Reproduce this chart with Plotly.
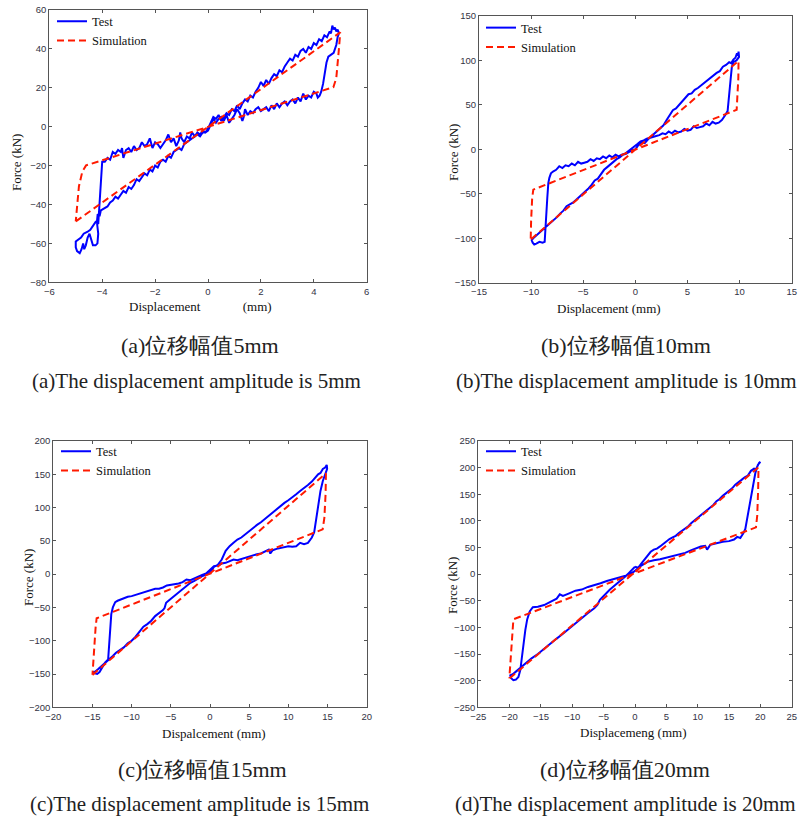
import plotly.graph_objects as go

# ---------------- data ----------------
# (a) amplitude 5 mm
test_a_x = [0.0,0.1,0.2,0.3,0.4,0.5,0.6,0.7,0.8,0.9,1.0,1.1,1.2,1.3,1.4,1.5,1.6,1.7,1.8,1.9,2.0,2.1,2.2,2.3,2.4,2.5,2.6,2.7,2.8,2.9,3.0,3.1,3.2,3.3,3.4,3.5,3.6,3.7,3.8,3.9,4.0,4.1,4.2,4.3,4.4,4.5,4.6,4.65,4.7,4.75,4.8,4.85,4.9,4.95,
            4.9,4.85,4.75,4.65,4.55,4.48,4.42,4.35,4.28,4.22,4.15,4.1,4.0,3.9,3.8,3.7,3.6,3.5,3.4,3.3,3.2,3.1,3.0,2.9,2.8,2.7,2.6,2.5,2.4,2.3,2.2,2.1,2.0,1.9,1.8,1.7,1.6,1.5,1.4,1.35,1.3,1.2,1.1,1.0,0.9,0.8,0.7,0.6,0.5,0.4,0.3,0.2,0.1,0.0,
            -0.1,-0.2,-0.3,-0.4,-0.5,-0.6,-0.7,-0.8,-0.9,-1.0,-1.05,-1.1,-1.2,-1.3,-1.4,-1.5,-1.6,-1.7,-1.8,-1.9,-2.0,-2.1,-2.2,-2.3,-2.4,-2.5,-2.6,-2.7,-2.8,-2.9,-3.0,-3.1,-3.2,-3.25,-3.3,-3.4,-3.5,-3.6,-3.7,-3.8,-3.9,-4.0,
            -4.03,-4.06,-4.1,-4.12,-4.15,-4.25,-4.35,-4.45,-4.55,-4.7,-4.8,-4.9,-5.0,-5.0,-4.95,-4.85,-4.78,-4.72,-4.68,-4.62,-4.55,-4.48,-4.4,-4.35,-4.25,-4.18,-4.15,-4.2,-4.17,-4.1,-4.05,
            -3.9,-3.8,-3.7,-3.6,-3.5,-3.4,-3.3,-3.2,-3.1,-3.0,-2.9,-2.8,-2.7,-2.6,-2.5,-2.4,-2.3,-2.2,-2.1,-2.0,-1.9,-1.8,-1.7,-1.6,-1.5,-1.4,-1.3,-1.2,-1.1,-1.0,-0.9,-0.8,-0.7,-0.6,-0.5,-0.4,-0.3,-0.2,-0.1,0.0]
test_a_y = [-1,2,5,4,6,3,5,7,6,9,8,11,9,12,14,13,16,15,18,20,23,21,24,22,25,27,26,29,28,31,33,35,34,37,36,39,40,38,41,40,43,42,45,44,47,46,49,48,52,50,51,49,50,48,
            46,42,38,37,36,33,27,22,18,16,15,17,18,15,16,14,17,13,15,12,14,13,11,13,12,10,12,9,11,8,10,9,8,10,9,7,8,6,9,5,3,7,9,6,4,2,6,3,5,4,2,4,1,-2,
            -3,-2,-4,-3,-5,-3,-6,-5,-8,-6,-3,-7,-10,-6,-8,-4,-7,-9,-11,-9,-8,-11,-6,-9,-10,-8,-11,-12,-10,-13,-11,-12,-16,-11,-13,-12,-14,-13,-17,-16,-18,-18,
            -25,-35,-42,-48,-50,-49,-51,-53,-54,-55,-57,-58,-59,-62,-64,-65,-63,-60,-63,-61,-57,-55,-58,-61,-61,-60,-55,-49,-45,-46,-43,
            -42,-41,-39,-38,-36,-37,-35,-33,-34,-31,-32,-30,-27,-28,-26,-24,-25,-22,-23,-20,-21,-18,-17,-18,-15,-16,-13,-12,-11,-12,-9,-8,-7,-6,-5,-4,-5,-3,-3,-1]
sim_a_x = [-5.0, 5.0, 4.95, 4.85, 4.74, -4.61, -4.75, -4.88, -5.0]
sim_a_y = [-48.7, 48.5, 40.0, 25.0, 20.3, -19.9, -23.0, -30.7, -48.7]

# (b) amplitude 10 mm
test_b_x = [0,0.3,0.6,0.9,1.2,1.5,1.8,2.1,2.4,2.7,3.0,3.3,3.6,3.9,4.2,4.5,4.8,5.1,5.4,5.7,6.0,6.3,6.6,6.9,7.2,7.5,7.8,8.1,8.4,8.7,9.0,9.2,9.4,9.6,9.75,9.85,9.9,9.95,
            9.7,9.4,9.25,9.15,9.05,8.95,8.85,8.6,8.3,8.0,7.7,7.4,7.1,6.8,6.5,6.2,5.9,5.6,5.3,5.0,4.7,4.4,4.1,3.8,3.5,3.2,2.9,2.6,2.3,2.0,1.7,1.4,1.1,0.8,0.5,0.2,
            -0.1,-0.4,-0.7,-1.0,-1.3,-1.6,-1.9,-2.2,-2.5,-2.8,-3.1,-3.4,-3.7,-4.0,-4.3,-4.6,-4.9,-5.2,-5.5,-5.8,-6.1,-6.4,-6.7,-7.0,-7.3,-7.6,-7.9,-8.1,-8.25,-8.35,-8.45,-8.55,-8.65,-8.7,-8.9,-9.2,-9.5,-9.7,-9.85,-9.95,-9.8,
            -9.6,-9.3,-9.0,-8.7,-8.4,-8.1,-7.8,-7.5,-7.2,-6.9,-6.6,-6.3,-6.0,-5.7,-5.4,-5.1,-4.8,-4.5,-4.2,-3.9,-3.6,-3.3,-3.0,-2.7,-2.4,-2.1,-1.8,-1.5,-1.2,-0.9,-0.6,-0.3,0]
test_b_y = [0,5,8,7,11,14,17,20,24,27,33,39,44,46,50,54,57,62,63,67,69,72,74,78,80,83,86,88,93,95,98,97,101,103,108,105,110,104,
            100,98,92,80,65,50,43,38,33,30,29,31,27,29,26,25,24,26,22,21,23,20,19,21,18,20,17,18,16,15,14,13,12,10,9,6,
            3,1,-2,-5,-6,-8,-6,-9,-7,-10,-8,-11,-10,-13,-11,-14,-15,-16,-14,-18,-16,-19,-18,-21,-19,-23,-25,-27,-32,-38,-55,-75,-95,-104,-105,-104,-106,-107,-105,-102,-100,
            -98,-95,-92,-88,-86,-82,-80,-76,-72,-69,-64,-62,-60,-57,-54,-50,-48,-44,-40,-35,-33,-28,-23,-20,-17,-13,-11,-9,-6,-5,-3,-1,0]
sim_b_x = [-10.0, 9.9, 9.88, 9.8, 9.72, -9.79, -9.9, -10.0, -10.04]
sim_b_y = [-101.0, 99.5, 80.0, 55.0, 44.5, -45.3, -55.0, -80.0, -101.0]

# (c) amplitude 15 mm
test_c_x = [0,0.5,1.0,1.5,2.0,2.5,3.0,3.5,4.0,4.5,5.0,5.5,6.0,6.5,7.0,7.5,8.0,8.5,9.0,9.5,10.0,10.5,11.0,11.5,12.0,12.5,13.0,13.5,13.8,14.1,14.4,14.7,14.9,14.95,
            14.7,14.4,14.1,13.8,13.5,13.3,13.0,12.5,12.0,11.5,11.0,10.5,10.0,9.5,9.0,8.5,8.0,7.7,7.5,7.0,6.5,6.0,5.5,5.0,4.5,4.0,3.5,3.0,2.5,2.0,1.5,1.0,0.5,0.0,
            -0.5,-1.0,-1.5,-2.0,-2.5,-3.0,-3.5,-4.0,-4.5,-5.0,-5.5,-6.0,-6.5,-7.0,-7.5,-8.0,-8.5,-9.0,-9.5,-10.0,-10.5,-11.0,-11.5,-11.8,-12.1,-12.4,-12.6,-12.75,-12.9,-13.0,-13.4,-13.8,-14.1,-14.4,-14.7,-14.9,
            -14.6,-14.3,-14.0,-13.6,-13.2,-12.8,-12.4,-12.0,-11.5,-11.0,-10.5,-10.0,-9.5,-9.0,-8.5,-8.0,-7.5,-7.0,-6.5,-6.0,-5.8,-5.6,-5.3,-5.0,-4.5,-4.0,-3.5,-3.0,-2.5,-2.0,-1.5,-1.0,-0.5,0]
test_c_y = [2,11,14,22,35,42,47,52,55,60,65,70,74,78,83,87,92,97,102,107,111,115,120,125,129,134,139,146,150,152,158,160,164,158,
            150,140,125,100,75,63,55,47,45,47,42,41,42,41,40,38,36,31,37,34,31,30,28,27,24,22,21,22,19,17,16,13,12,6,
            1,-1,-4,-6,-9,-8,-12,-14,-15,-17,-17,-20,-22,-22,-24,-26,-28,-30,-31,-33,-34,-36,-38,-40,-42,-50,-60,-90,-120,-128,-133,-140,-147,-150,-149,-147,
            -146,-143,-140,-136,-131,-127,-123,-118,-114,-110,-104,-100,-94,-86,-79,-75,-70,-63,-59,-54,-51,-43,-40,-37,-32,-27,-22,-17,-13,-10,-6,-3,-1,2]
sim_c_x = [-15.0, 14.8, 14.75, 14.6, 14.38, -14.47, -14.6, -14.85, -15.0]
sim_c_y = [-151.4, 151.4, 120.0, 85.0, 67.3, -66.3, -80.0, -120.0, -151.4]

# (d) amplitude 20 mm
test_d_x = [0,0.5,1.0,1.5,2.0,2.5,3.0,3.5,4.0,4.5,5.0,5.5,6.0,6.5,7.0,7.5,8.0,8.5,9.0,9.5,10.0,10.5,11.0,11.5,12.0,12.5,13.0,13.5,14.0,14.5,15.0,15.5,16.0,16.5,17.0,17.5,18.0,18.5,19.0,19.3,19.6,19.8,20.0,
            19.6,19.2,18.8,18.4,18.0,17.6,17.3,16.8,16.3,15.8,15.0,14.0,13.0,12.0,11.5,11.2,10.5,10.0,9.0,8.0,7.0,6.0,5.0,4.0,3.0,2.0,1.0,0.5,0.0,
            -0.8,-1.5,-2.5,-3.5,-4.5,-5.5,-6.5,-7.5,-8.5,-9.5,-10.5,-11.5,-12.0,-12.5,-13.5,-14.5,-15.5,-16.3,-16.8,-17.2,-17.5,-17.8,-18.1,-18.3,-18.6,-19.0,-19.4,-19.8,-19.9,
            -19.5,-19.0,-18.5,-18.0,-17.3,-16.5,-15.5,-14.5,-13.5,-12.5,-11.5,-10.5,-9.5,-8.5,-7.5,-6.5,-6.0,-5.6,-5.0,-4.5,-4.0,-3.5,-3.0,-2.5,-2.0,-1.5,-1.0,-0.5,0]
test_d_y = [14,12,20,27,35,42,46,48,52,57,62,66,69,72,77,81,86,90,96,101,106,110,116,120,126,130,137,141,147,152,157,161,168,172,177,182,185,194,198,197,206,209,211,
            205,190,165,135,110,85,77,68,70,65,62,61,58,55,46,53,52,50,45,40,37,34,30,28,26,23,16,12,6,
            0,-3,-6,-9,-13,-17,-20,-24,-29,-31,-36,-41,-38,-46,-52,-58,-61,-62,-70,-85,-105,-135,-165,-180,-193,-198,-199,-195,-190,
            -188,-183,-178,-172,-166,-158,-150,-140,-131,-121,-112,-102,-93,-83,-73,-64,-58,-48,-40,-35,-29,-24,-19,-15,-10,-4,2,8,14]
sim_d_x = [-20.0, 19.7, 19.65, 19.5, 19.3, -19.4, -19.55, -19.85, -20.05]
sim_d_y = [-195.6, 200.6, 160.0, 110.0, 87.9, -84.8, -110.0, -160.0, -195.6]

x_ranges = [[-6, 6], [-15, 15], [-20, 20], [-25, 25]]
y_ranges = [[-80, 60], [-150, 150], [-200, 200], [-250, 250]]
x_dticks = [2, 5, 5, 5]
y_dticks = [20, 50, 50, 50]
x_titles = ["Displacement" + "&nbsp;" * 13 + "(mm)", "Displacement (mm)", "Dispalcement (mm)", "Displacemeng (mm)"]
y_title = "Force (kN)"
captions_cn = ["(a)位移幅值5mm", "(b)位移幅值10mm", "(c)位移幅值15mm", "(d)位移幅值20mm"]
captions_en = ["(a)The displacement amplitude is 5mm", "(b)The displacement amplitude is 10mm",
               "(c)The displacement amplitude is 15mm", "(d)The displacement amplitude is 20mm"]

tests = [(test_a_x, test_a_y), (test_b_x, test_b_y), (test_c_x, test_c_y), (test_d_x, test_d_y)]
sims = [(sim_a_x, sim_a_y), (sim_b_x, sim_b_y), (sim_c_x, sim_c_y), (sim_d_x, sim_d_y)]

# ---------------- layout helpers (pixel geometry) ----------------
W, H = 799, 818
def px(x): return x / W
def py(y): return 1 - y / H

# plot frames in pixels: left, right, top, bottom
frames = [(49.3, 366.7, 10, 282.3), (479, 791.7, 16, 282.7), (53.3, 366.7, 441, 707.3), (478.3, 791.7, 441, 707.3)]
legend_pos = [(52, 6.5), (481, 13), (56, 436.5), (481, 436.5)]
# x-title: (x, y, anchor)
xtitle_pos = [(127, 306, "left"), (609, 308, "center"), (214, 733, "center"), (633, 732, "center")]
ytitle_pos = [(16, 163), (453, 153), (28, 578), (452, 586)]
cap_cn_pos = [(200, 345), (626, 345), (202, 769), (625, 769)]
cap_en_pos = [(196, 381), (626, 381), (199, 804), (625, 804)]

fig = go.Figure()
layout = dict(width=W, height=H, margin=dict(l=0, r=0, t=0, b=0),
              paper_bgcolor="white", plot_bgcolor="white", showlegend=True)

tick_font = dict(family="Liberation Sans, Arial, sans-serif", size=9.5, color="#333344")
serif = "Liberation Serif, DejaVu Serif, Times New Roman, serif"
annotations = []

for i in range(4):
    n = "" if i == 0 else str(i + 1)
    lg = "legend" if i == 0 else "legend" + str(i + 1)
    tx, ty = tests[i]
    sx, sy = sims[i]
    fig.add_trace(go.Scatter(x=tx, y=ty, mode="lines", name="Test",
                             line=dict(color="#0000ff", width=2),
                             xaxis="x" + n, yaxis="y" + n, legend=lg))
    fig.add_trace(go.Scatter(x=sx, y=sy, mode="lines", name="Simulation",
                             line=dict(color="#ff1a00", width=2, dash="7px,4px"),
                             xaxis="x" + n, yaxis="y" + n, legend=lg))
    l, r, t, b = frames[i]
    ax_common = dict(showline=True, linecolor="#555555", linewidth=1, mirror="ticks",
                     ticks="inside", ticklen=3, tickcolor="#555555", showgrid=False,
                     zeroline=False, tickfont=tick_font, fixedrange=True, automargin=False)
    layout["xaxis" + n] = dict(domain=[px(l), px(r)], range=x_ranges[i], dtick=x_dticks[i],
                               tick0=0, anchor="y" + n, **ax_common)
    layout["yaxis" + n] = dict(domain=[py(b), py(t)], range=y_ranges[i], dtick=y_dticks[i],
                               tick0=0, anchor="x" + n, **ax_common)
    lx, ly = legend_pos[i]
    layout[lg] = dict(x=px(lx), y=py(ly), xanchor="left", yanchor="top",
                      bgcolor="rgba(0,0,0,0)", font=dict(family=serif, size=12.5, color="#111"),
                      itemwidth=30, tracegroupgap=0)
    xt = xtitle_pos[i]
    annotations.append(dict(text=x_titles[i], x=px(xt[0]), y=py(xt[1]), xref="paper", yref="paper",
                            showarrow=False, xanchor=xt[2], yanchor="middle",
                            font=dict(family=serif, size=13, color="#111")))
    yt = ytitle_pos[i]
    annotations.append(dict(text=y_title, x=px(yt[0]), y=py(yt[1]), xref="paper", yref="paper",
                            showarrow=False, xanchor="center", yanchor="middle", textangle=-90,
                            font=dict(family=serif, size=13, color="#111")))
    c1 = cap_cn_pos[i]
    annotations.append(dict(text=captions_cn[i], x=px(c1[0]), y=py(c1[1]), xref="paper", yref="paper",
                            showarrow=False, xanchor="center", yanchor="middle",
                            font=dict(family=serif, size=22, color="#222")))
    c2 = cap_en_pos[i]
    annotations.append(dict(text=captions_en[i], x=px(c2[0]), y=py(c2[1]), xref="paper", yref="paper",
                            showarrow=False, xanchor="center", yanchor="middle",
                            font=dict(family=serif, size=21, color="#222")))

layout["annotations"] = annotations
fig.update_layout(**layout)
fig.write_html("out.html", config={"displayModeBar": False},
               post_script="document.body.style.margin='0';document.body.style.overflow='hidden';")
